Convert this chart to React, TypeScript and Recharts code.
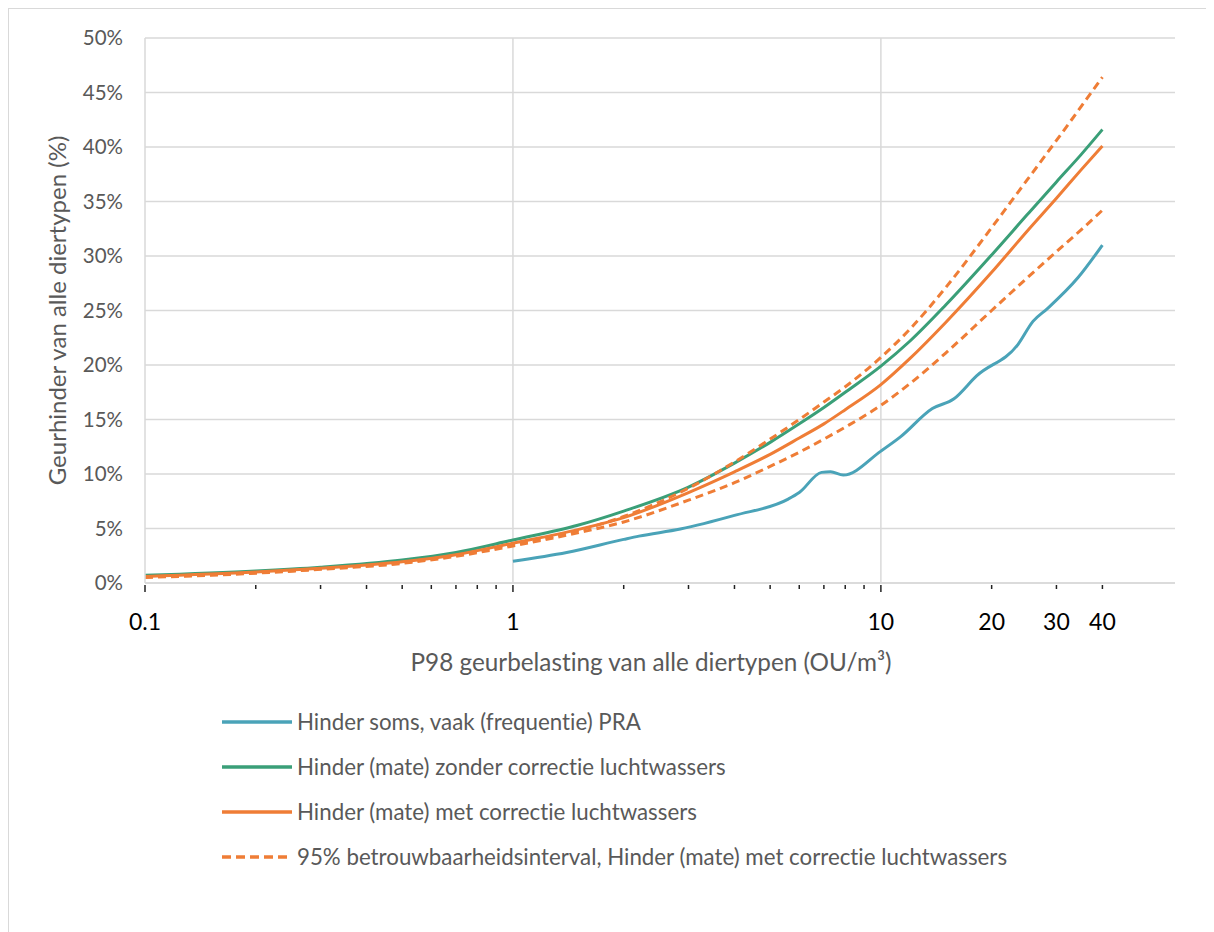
import React from "react";
import { CartesianGrid, Label, Legend, Line, LineChart, ReferenceLine, XAxis, YAxis } from "recharts";

// x values (OU/m3) shared by the three model curves
const xValues = [0.1, 0.2, 0.3, 0.5, 0.7, 1, 1.5, 2, 3, 4, 5, 6, 7, 8, 10, 12, 15, 20, 25, 30, 35, 40];
const zonderCorrectie = [0.7, 1.1, 1.45, 2.1, 2.8, 3.95, 5.3, 6.6, 8.8, 11.0, 12.9, 14.6, 16.1, 17.5, 19.9, 22.2, 25.5, 30.1, 33.8, 36.8, 39.3, 41.6];
const metCorrectie = [0.6, 1.0, 1.35, 1.95, 2.6, 3.65, 4.9, 6.0, 8.3, 10.2, 11.8, 13.3, 14.6, 15.9, 18.2, 20.6, 23.9, 28.5, 32.3, 35.3, 37.9, 40.1];
const ciUpper = [0.55, 0.95, 1.3, 1.9, 2.55, 3.55, 4.8, 6.1, 8.7, 11.1, 13.2, 15.0, 16.6, 18.0, 20.7, 23.3, 27.1, 32.6, 37.0, 40.6, 43.7, 46.4];
const ciLower = [0.5, 0.9, 1.25, 1.8, 2.45, 3.4, 4.6, 5.6, 7.6, 9.2, 10.7, 12.0, 13.2, 14.3, 16.3, 18.3, 21.1, 25.0, 28.0, 30.4, 32.4, 34.2];

// PRA frequency curve has its own x points
const praX = [1, 1.4, 2, 2.2, 2.85, 4, 5.6, 6, 6.9, 7.3, 7.9, 10, 11.3, 13.8, 15.8, 18.2, 23.6, 25.9, 28.4, 34.3, 40];
const praY = [2.0, 2.8, 4.0, 4.3, 4.95, 6.2, 7.7, 8.3, 10.15, 10.2, 9.9, 12.1, 13.4, 16.0, 16.9, 19.0, 21.9, 24.0, 25.2, 28.0, 31.0];

const seriesNames = [
  "Hinder soms, vaak (frequentie) PRA",
  "Hinder (mate) zonder correctie luchtwassers",
  "Hinder (mate) met correctie luchtwassers",
  "95% betrouwbaarheidsinterval, Hinder (mate) met correctie luchtwassers",
];

const yTicks = [0, 5, 10, 15, 20, 25, 30, 35, 40, 45, 50];
const xMajorTicks = [0.1, 1, 10, 20, 30, 40];
const xMinorTicks = [0.2, 0.3, 0.4, 0.5, 0.6, 0.7, 0.8, 0.9, 2, 3, 4, 5, 6, 7, 8, 9];
const xGridLines = [1, 10];

const modelData = xValues.map((x, i) => ({
  x,
  zonder: zonderCorrectie[i],
  met: metCorrectie[i],
  upper: ciUpper[i],
  lower: ciLower[i],
}));
const praData = praX.map((x, i) => ({ x, pra: praY[i] }));

const FONT = "Lato, 'Open Sans', sans-serif";
const GRID = "#d9d9d9";
const TEXT = "#595959";
const BLUE = "#4aa3b8";
const GREEN = "#3a9f78";
const ORANGE = "#ef7d36";
const noLigatures = { fontVariantLigatures: "none" } as const;

function XTick(props: any) {
  const { x, y, payload } = props;
  const v = payload.value;
  const long = v === 0.1 || v === 1 || v === 10;
  const showLabel = xMajorTicks.includes(v);
  return (
    <g>
      <line x1={x} x2={x} y1={y + 2} y2={y + (long ? 9 : 6)} stroke="#222" strokeWidth={1.5} />
      {showLabel && (
        <text x={x} y={y + 47} textAnchor="middle" fontSize={23} fill="#000" fontFamily={FONT}>
          {String(v)}
        </text>
      )}
    </g>
  );
}

function LegendContent(props: any) {
  const items = (props.payload || [])
    .filter((e: any) => e.type !== "none")
    .slice()
    .sort((a: any, b: any) => seriesNames.indexOf(a.value) - seriesNames.indexOf(b.value));
  return (
    <div style={{ fontFamily: FONT, fontSize: 22.3, color: TEXT, ...noLigatures }}>
      {items.map((entry: any) => {
        const dashed = entry.payload && entry.payload.strokeDasharray;
        return (
          <div key={entry.value} style={{ display: "flex", alignItems: "center", height: 45 }}>
            <svg width={72} height={10} style={{ marginRight: 4 }}>
              <line
                x1={1}
                x2={71}
                y1={5}
                y2={5}
                stroke={entry.color}
                strokeWidth={3.5}
                strokeDasharray={dashed ? "9 5" : undefined}
              />
            </svg>
            <span style={{ whiteSpace: "nowrap" }}>{entry.value}</span>
          </div>
        );
      })}
    </div>
  );
}

function XTitle(props: any) {
  const vb = props.viewBox;
  return (
    <text
      x={vb.x + vb.width / 2 - 9}
      y={vb.y + 88}
      textAnchor="middle"
      fontSize={24.3}
      fill={TEXT}
      fontFamily={FONT}
      style={noLigatures}
    >
      P98 geurbelasting van alle diertypen (OU/m³)
    </text>
  );
}

export default function App() {
  return (
    <div
      style={{
        width: 1205,
        height: 923,
        borderTop: `1px solid ${GRID}`,
        borderLeft: `1px solid ${GRID}`,
        background: "#fff",
      }}
    >
      <LineChart width={1200} height={920} margin={{ top: 29, right: 34, left: 0, bottom: 0 }}>
        <CartesianGrid vertical={false} stroke={GRID} strokeWidth={1.5} />
        {xGridLines.map((v) => (
          <ReferenceLine key={v} x={v} stroke={GRID} strokeWidth={1.5} />
        ))}
        <XAxis
          dataKey="x"
          type="number"
          scale="log"
          domain={[0.1, 63]}
          allowDataOverflow
          ticks={[...xMajorTicks, ...xMinorTicks].sort((a, b) => a - b)}
          interval={0}
          height={346}
          axisLine={{ stroke: GRID, strokeWidth: 1.5 }}
          tickLine={false}
          tickSize={0}
          tickMargin={0}
          tick={<XTick />}
        >
          <Label content={<XTitle />} />
        </XAxis>
        <YAxis
          type="number"
          domain={[0, 50]}
          ticks={yTicks}
          width={136}
          axisLine={{ stroke: GRID, strokeWidth: 1.5 }}
          tickLine={false}
          tickSize={0}
          tickMargin={22}
          tickFormatter={(v) => `${v}%`}
          tick={{ fill: TEXT, fontSize: 20.5, fontFamily: FONT }}
        >
          <Label
            value="Geurhinder van alle diertypen (%)"
            angle={-90}
            position="center"
            dx={-20}
            style={{ fill: TEXT, fontSize: 24, fontFamily: FONT, ...noLigatures }}
          />
        </YAxis>
        <Line
          data={praData}
          dataKey="pra"
          name={seriesNames[0]}
          stroke={BLUE}
          strokeWidth={3}
          type="monotone"
          dot={false}
          isAnimationActive={false}
        />
        <Line
          data={modelData}
          dataKey="zonder"
          name={seriesNames[1]}
          stroke={GREEN}
          strokeWidth={3}
          type="monotone"
          dot={false}
          isAnimationActive={false}
        />
        <Line
          data={modelData}
          dataKey="met"
          name={seriesNames[2]}
          stroke={ORANGE}
          strokeWidth={3}
          type="monotone"
          dot={false}
          isAnimationActive={false}
        />
        <Line
          data={modelData}
          dataKey="upper"
          name={seriesNames[3]}
          stroke={ORANGE}
          strokeWidth={3}
          strokeDasharray="8 5"
          type="monotone"
          dot={false}
          isAnimationActive={false}
        />
        <Line
          data={modelData}
          dataKey="lower"
          name={seriesNames[3]}
          stroke={ORANGE}
          strokeWidth={3}
          strokeDasharray="8 5"
          type="monotone"
          dot={false}
          legendType="none"
          isAnimationActive={false}
        />
        <Legend
          layout="vertical"
          align="center"
          verticalAlign="middle"
          wrapperStyle={{ left: 212, top: 690, width: 900 }}
          content={<LegendContent />}
        />
      </LineChart>
    </div>
  );
}
